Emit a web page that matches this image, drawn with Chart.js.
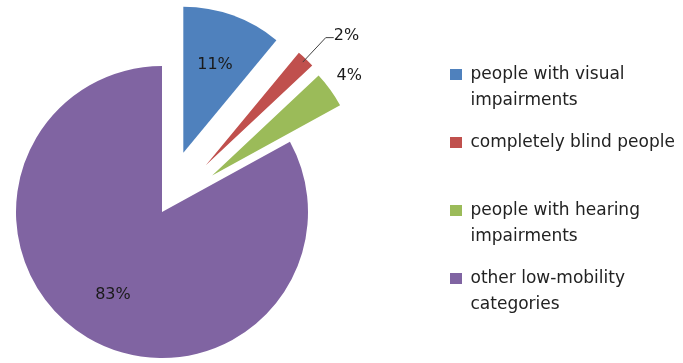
<!DOCTYPE html>
<html>
<head>
<meta charset="utf-8">
<script src="https://cdn.jsdelivr.net/npm/chart.js@4.4.0/dist/chart.umd.min.js"></script>
<style>
  html, body { margin: 0; padding: 0; background: #fff; overflow: hidden; }
  /* canvas is wider/taller than the window so the pie centre lands left of the legend */
  #wrap { position: absolute; left: -110px; top: 0; width: 793px; height: 374px; }
</style>
</head>
<body>
<div id="wrap"><canvas id="mobility_chart"></canvas></div>
<script>
// legend text, already broken into lines like the original
const categories = [
  ['people with visual', 'impairments'],
  ['completely blind people'],
  ['people with hearing', 'impairments'],
  ['other low-mobility', 'categories']
];
const shares = [11, 2, 4, 83];
const sliceColors = ['#4f81bd', '#c0504d', '#9bbb59', '#8064a2'];
const explodePx = [63, 64, 62, 0];

const RADIUS = 146;

// draw each arc pushed out along its middle angle (v4's own offset also shrinks the arc)
const explode = {
  id: 'explode',
  beforeDatasetDraw(chart, args) {
    const ctx = chart.ctx;
    args.meta.data.forEach((arc, i) => {
      const mid = (arc.startAngle + arc.endAngle) / 2;
      ctx.save();
      ctx.translate(Math.cos(mid) * explodePx[i], Math.sin(mid) * explodePx[i]);
      arc.draw(ctx, chart.chartArea);
      ctx.restore();
    });
    return false;
  }
};

const sliceLabels = {
  id: 'sliceLabels',
  afterDatasetsDraw(chart, args, opts) {
    const ctx = chart.ctx;
    const meta = chart.getDatasetMeta(0);
    const total = shares.reduce((a, b) => a + b, 0);
    ctx.save();
    ctx.font = '16px "DejaVu Sans"';
    ctx.fillStyle = '#1a1a1a';
    ctx.textBaseline = 'middle';
    meta.data.forEach((arc, i) => {
      const mid = (arc.startAngle + arc.endAngle) / 2;
      const cx = arc.x + Math.cos(mid) * explodePx[i];
      const cy = arc.y + Math.sin(mid) * explodePx[i];
      const place = opts.place[i];
      const x = cx + Math.cos(mid) * RADIUS * place.r;
      const y = cy + Math.sin(mid) * RADIUS * place.r;
      const text = Math.round(shares[i] / total * 100) + '%';
      if (place.leader) {
        ctx.strokeStyle = '#404040';
        ctx.lineWidth = 1;
        ctx.beginPath();
        ctx.moveTo(cx + Math.cos(mid) * RADIUS * 0.97, cy + Math.sin(mid) * RADIUS * 0.97);
        ctx.lineTo(x, y);
        ctx.lineTo(x + 8, y);
        ctx.stroke();
        ctx.textAlign = 'left';
        ctx.fillText(text, x + 8, y - 2);
      } else {
        ctx.textAlign = 'center';
        ctx.fillText(text, x, y);
      }
    });
    ctx.restore();
  }
};

new Chart(document.getElementById('mobility_chart').getContext('2d'), {
  type: 'pie',
  data: {
    labels: categories,
    datasets: [{
      data: shares,
      backgroundColor: sliceColors,
      borderWidth: 0,
      borderColor: '#fff',
      clip: false
    }]
  },
  options: {
    responsive: true,
    maintainAspectRatio: false,
    animation: false,
    radius: RADIUS,
    layout: {
      padding: { left: 0, right: 9, top: 50, bottom: 0 }
    },
    plugins: {
      tooltip: { enabled: false },
      legend: {
        position: 'right',
        align: 'start',
        maxWidth: 240,
        labels: {
          color: '#222',
          boxWidth: 12,
          boxHeight: 11,
          padding: 16,
          font: { family: 'DejaVu Sans', size: 17, lineHeight: '26px' },
          generateLabels(chart) {
            const items = Chart.overrides.pie.plugins.legend.labels.generateLabels(chart);
            // every entry gets two lines so the slots stay evenly spaced
            items.forEach(it => {
              const lines = Array.isArray(it.text) ? it.text.slice() : [it.text];
              while (lines.length < 2) lines.push('');
              it.text = lines;
            });
            return items;
          }
        }
      },
      sliceLabels: {
        place: [{ r: 0.64 }, { r: 1.2, leader: true }, { r: 1.16 }, { r: 0.66 }]
      }
    }
  },
  plugins: [explode, sliceLabels]
});
</script>
</body>
</html>
